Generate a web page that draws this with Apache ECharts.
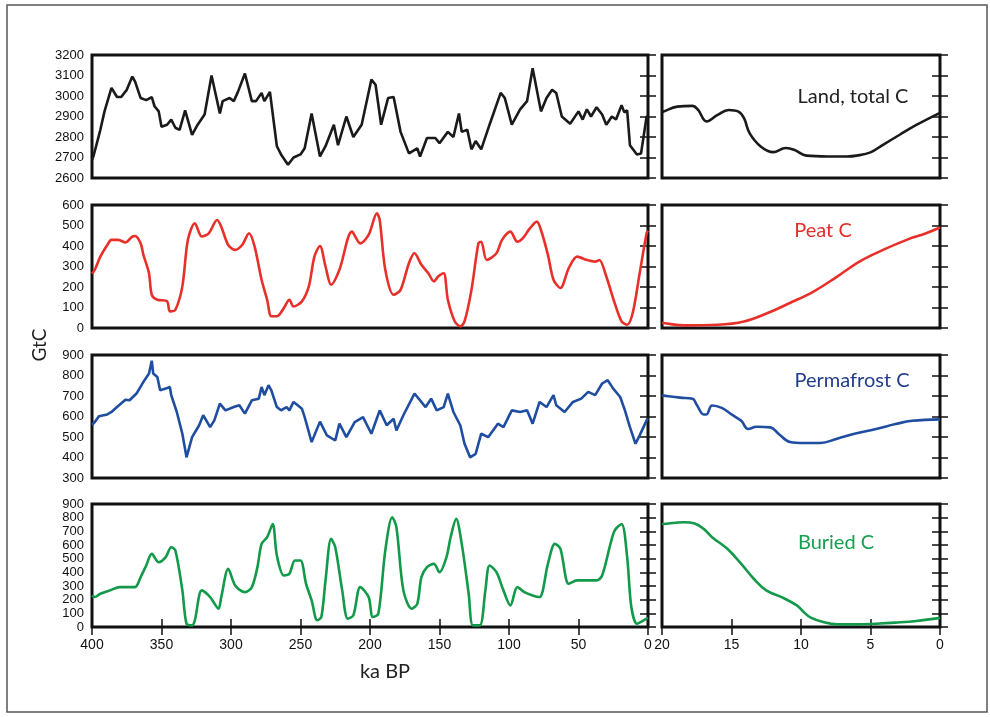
<!DOCTYPE html>
<html>
<head>
<meta charset="utf-8">
<title>Land carbon stocks</title>
<script src="https://cdn.jsdelivr.net/npm/echarts@6/dist/echarts.min.js"></script>
<style>
  html, body { margin: 0; padding: 0; background: #fff; }
  #chart { width: 990px; height: 717px; }
</style>
</head>
<body>
<div id="chart"></div>
<script>
// ---- data (ka BP, GtC) ----
const landAge = [400, 399, 394, 391, 386, 382, 379, 375, 371, 369, 365, 361, 357, 355, 352, 350, 346, 343, 340, 337, 333, 328, 324, 319, 314, 308, 306, 301, 298, 295, 290, 285, 282, 278, 276, 272, 267, 264, 259, 255, 250, 247, 242, 236, 232, 226, 223, 217, 212, 206, 199, 196, 192, 187, 183, 178, 172, 166, 164, 159, 153, 150, 144, 140, 136, 134, 130, 127, 124, 120, 114, 106, 103, 98, 92, 87, 83, 77, 73, 69, 66, 62, 56, 50, 47, 44, 41, 37, 33, 30, 26, 23, 19, 17, 15, 13, 8, 5, 1, 0];
const landC = [2690, 2705, 2835, 2925, 3040, 2995, 2995, 3030, 3095, 3070, 2990, 2980, 2995, 2950, 2925, 2850, 2860, 2885, 2845, 2835, 2930, 2810, 2860, 2910, 3100, 2915, 2975, 2990, 2975, 3020, 3110, 2975, 2975, 3015, 2975, 3020, 2755, 2715, 2665, 2700, 2715, 2745, 2915, 2705, 2755, 2860, 2760, 2900, 2800, 2860, 3080, 3055, 2860, 2990, 2995, 2825, 2720, 2745, 2705, 2795, 2795, 2770, 2825, 2800, 2915, 2825, 2835, 2740, 2780, 2740, 2860, 3015, 2990, 2860, 2935, 2975, 3135, 2925, 2990, 3030, 3015, 2900, 2865, 2925, 2885, 2935, 2900, 2945, 2910, 2860, 2900, 2885, 2955, 2920, 2930, 2760, 2715, 2720, 2900, 2900];

const peatAge = [400, 398, 394, 389, 386, 381, 376, 371, 369, 365, 363, 359, 357, 353, 346, 344, 340, 335, 331, 326, 321, 316, 310, 307, 302, 297, 292, 287, 283, 278, 274, 271, 267, 262, 258, 255, 249, 244, 240, 236, 232, 228, 222, 213, 207, 201, 195, 193, 189, 183, 178, 172, 168, 163, 158, 154, 151, 147, 144, 139, 135, 132, 127, 122, 120, 116, 109, 105, 99, 94, 90, 85, 80, 77, 72, 68, 63, 57, 51, 44, 38, 35, 30, 24, 19, 15, 11, 6, 1, 0];
const peatC = [265, 284, 348, 405, 430, 430, 417, 446, 449, 413, 357, 267, 162, 138, 130, 81, 89, 203, 430, 511, 446, 462, 527, 494, 405, 381, 405, 462, 397, 235, 138, 57, 57, 97, 138, 105, 130, 203, 348, 400, 300, 211, 284, 470, 413, 454, 559, 527, 284, 162, 186, 316, 365, 308, 267, 227, 251, 267, 138, 32, 8, 32, 186, 413, 421, 332, 365, 430, 470, 421, 438, 486, 519, 478, 357, 235, 195, 292, 348, 332, 324, 332, 251, 122, 32, 16, 73, 267, 462, 475];

const permAge = [400, 398, 395, 389, 386, 382, 376, 373, 368, 363, 359, 357, 356, 353, 351, 347, 344, 343, 339, 335, 332, 328, 323, 320, 315, 312, 308, 304, 298, 294, 290, 285, 280, 278, 276, 273, 271, 267, 264, 260, 258, 255, 252, 249, 247, 242, 236, 231, 225, 222, 217, 211, 205, 199, 193, 188, 183, 181, 176, 168, 160, 156, 152, 147, 144, 140, 135, 132, 128, 124, 120, 115, 108, 104, 98, 92, 87, 83, 78, 73, 68, 66, 60, 54, 48, 43, 38, 33, 29, 25, 20, 17, 13, 9, 6, 1, 0];
const permC = [560, 573, 601, 610, 622, 646, 682, 679, 712, 769, 810, 872, 810, 793, 728, 736, 744, 704, 622, 516, 401, 499, 556, 606, 548, 581, 663, 630, 646, 655, 614, 679, 687, 744, 704, 753, 728, 646, 630, 646, 630, 671, 655, 638, 597, 475, 575, 508, 483, 565, 499, 573, 597, 516, 630, 557, 589, 532, 606, 712, 646, 687, 630, 646, 712, 622, 556, 467, 401, 418, 516, 499, 565, 548, 630, 622, 630, 565, 671, 646, 704, 655, 622, 671, 687, 720, 704, 761, 777, 736, 695, 638, 548, 467, 508, 581, 590];

const burAge = [400, 398, 394, 387, 380, 375, 369, 365, 361, 357, 352, 347, 343, 340, 335, 332, 328, 326, 321, 315, 309, 307, 302, 297, 290, 285, 281, 278, 274, 270, 267, 262, 258, 254, 250, 246, 242, 238, 235, 232, 228, 225, 220, 216, 212, 207, 201, 198, 194, 189, 184, 181, 176, 170, 166, 163, 159, 154, 150, 145, 142, 138, 134, 129, 126, 121, 117, 114, 109, 104, 99, 94, 89, 83, 78, 72, 67, 63, 57, 51, 43, 37, 33, 27, 24, 19, 15, 12, 8, 5, 1, 0];
const burC = [230, 219, 243, 268, 292, 292, 292, 365, 450, 535, 474, 511, 584, 560, 268, 24, 12, 49, 268, 219, 134, 219, 426, 304, 255, 292, 438, 608, 657, 754, 523, 377, 389, 487, 487, 316, 195, 49, 73, 341, 645, 584, 268, 61, 85, 292, 219, 73, 97, 560, 803, 730, 268, 134, 170, 365, 438, 462, 401, 511, 657, 791, 608, 243, 12, 12, 268, 450, 401, 268, 158, 292, 255, 231, 219, 462, 608, 572, 316, 341, 341, 341, 377, 608, 706, 754, 511, 146, 24, 37, 61, 66];

// last 20 ka
const landAgeHol = [20, 19.9, 18.9, 17.8, 17.4, 16.8, 16.0, 15.2, 14.5, 14.1, 13.7, 12.9, 12.0, 11.1, 10.5, 9.6, 8.1, 6.7, 6.0, 5.0, 4.1, 2.9, 1.7, 0];
const landCHol = [2920, 2924, 2948, 2952, 2932, 2876, 2908, 2932, 2924, 2892, 2819, 2754, 2726, 2746, 2738, 2709, 2705, 2705, 2709, 2725, 2762, 2811, 2859, 2918];

const peatAgeHol = [20, 19.9, 18.4, 16.0, 14.1, 12.4, 10.8, 9.1, 7.4, 5.8, 4.1, 2.4, 1.0, 0];
const peatCHol = [25, 24, 13, 16, 32, 73, 122, 178, 251, 324, 381, 430, 462, 490];

const permAgeHol = [20, 19.9, 18.7, 17.8, 17.5, 17.0, 16.8, 16.4, 15.7, 15.0, 14.3, 13.8, 13.2, 12.2, 11.6, 10.8, 9.8, 8.6, 7.4, 6.0, 4.6, 3.2, 2.0, 0];
const permCHol = [703, 702, 692, 686, 657, 610, 610, 654, 642, 610, 579, 539, 550, 547, 515, 476, 471, 471, 492, 518, 539, 563, 579, 586];

const burAgeHol = [20, 19.9, 18.4, 17.7, 17.0, 16.4, 15.3, 14.3, 13.4, 12.5, 11.4, 10.3, 9.8, 9.3, 8.4, 7.4, 6.0, 4.6, 3.2, 1.7, 0];
const burCHol = [752, 754, 766, 759, 718, 657, 572, 462, 353, 268, 219, 158, 109, 68, 36, 19, 19, 24, 32, 44, 67];

const panels = [
  { name: "Land, total C", age: landAge, val: landC, ageHol: landAgeHol, valHol: landCHol, min: 2600, max: 3200, color: "#1a1a1a", textColor: "#222", smooth: false, labelX: 853, labelY: 97 },
  { name: "Peat C", age: peatAge, val: peatC, ageHol: peatAgeHol, valHol: peatCHol, min: 0, max: 600, color: "#e8302a", textColor: "#e0302a", smooth: 0.3, labelX: 823, labelY: 231 },
  { name: "Permafrost C", age: permAge, val: permC, ageHol: permAgeHol, valHol: permCHol, min: 300, max: 900, color: "#1f4ea0", textColor: "#223d8c", smooth: false, labelX: 852, labelY: 381 },
  { name: "Buried C", age: burAge, val: burC, ageHol: burAgeHol, valHol: burCHol, min: 0, max: 900, color: "#12994a", textColor: "#15a050", smooth: 0.3, labelX: 836, labelY: 543 }
];

const tops = [55, 205, 355, 504];
const panelH = 123;
const labelFont = "'Liberation Sans', Arial, sans-serif";
const textFont = "Lato, 'Open Sans', sans-serif";

const chart = echarts.init(document.getElementById("chart"));

const grid = [];
const xAxis = [];
const yAxis = [];
const series = [];
const graphic = [];

const tickInside = (len) => ({ show: true, inside: true, length: len, lineStyle: { color: "#111", width: 1.5 } });
const plain = (v) => String(v);

panels.forEach((p, i) => {
  const isBottom = i === panels.length - 1;
  [0, 1].forEach((side) => {
    const g = grid.length;
    grid.push({
      left: side === 0 ? 92 : 662,
      width: side === 0 ? 556 : 278,
      top: tops[i],
      height: panelH,
      show: true,
      borderColor: "#111",
      borderWidth: 3,
      backgroundColor: "transparent"
    });
    const xMax = side === 0 ? 400 : 20;
    const xInt = side === 0 ? 50 : 5;
    // bottom x axis
    xAxis.push({
      gridIndex: g,
      type: "value",
      min: 0,
      max: xMax,
      interval: xInt,
      inverse: true,
      position: "bottom",
      axisLine: { show: false },
      axisTick: isBottom ? tickInside(8) : { show: false },
      splitLine: { show: false },
      axisLabel: isBottom ? {
        show: true, color: "#111", fontSize: 14, fontFamily: labelFont, margin: 11,
        formatter: plain
      } : { show: false }
    });
    // top x axis, ticks only on the bottom row
    xAxis.push({
      gridIndex: g,
      type: "value",
      min: 0,
      max: xMax,
      interval: xInt,
      inverse: true,
      position: "top",
      axisLine: { show: false },
      axisTick: isBottom ? tickInside(8) : { show: false },
      splitLine: { show: false },
      axisLabel: { show: false }
    });
    yAxis.push({
      gridIndex: g,
      type: "value",
      min: p.min,
      max: p.max,
      interval: 100,
      position: "left",
      axisLine: { show: false },
      axisTick: tickInside(8),
      splitLine: { show: false },
      axisLabel: side === 0 ? {
        show: true, color: "#111", fontSize: 13, fontFamily: labelFont,
        margin: 8, formatter: plain
      } : { show: false }
    });
    yAxis.push({
      gridIndex: g,
      type: "value",
      min: p.min,
      max: p.max,
      interval: 100,
      position: "right",
      axisLine: { show: false },
      axisTick: tickInside(8),
      splitLine: { show: false },
      axisLabel: { show: false }
    });
    const ages = side === 0 ? p.age : p.ageHol;
    const vals = side === 0 ? p.val : p.valHol;
    series.push({
      type: "line",
      name: p.name,
      xAxisIndex: g * 2,
      yAxisIndex: g * 2,
      data: ages.map((a, k) => [a, vals[k]]),
      showSymbol: false,
      symbol: "none",
      smooth: side === 1 ? 0.4 : p.smooth,
      clip: true,
      lineStyle: { color: p.color, width: 2.6 },
      z: 3
    });
  });
  graphic.push({
    type: "text",
    x: p.labelX,
    y: p.labelY,
    style: {
      text: p.name,
      fill: p.textColor,
      font: "20px " + textFont,
      textAlign: "center",
      textVerticalAlign: "middle"
    },
    z: 10
  });
});

graphic.push({
  type: "rect",
  shape: { x: 7, y: 5, width: 980, height: 707 },
  style: { fill: "none", stroke: "#555", lineWidth: 1.5 },
  z: 0
});
graphic.push({
  type: "text",
  x: 40,
  y: 345,
  rotation: Math.PI / 2,
  style: {
    text: "GtC",
    fill: "#222",
    font: "19px " + textFont,
    textAlign: "center",
    textVerticalAlign: "middle"
  },
  z: 10
});
graphic.push({
  type: "text",
  x: 385,
  y: 672,
  style: {
    text: "ka BP",
    fill: "#222",
    font: "20px " + textFont,
    textAlign: "center",
    textVerticalAlign: "middle"
  },
  z: 10
});

chart.setOption({
  animation: false,
  backgroundColor: "#fff",
  grid: grid,
  xAxis: xAxis,
  yAxis: yAxis,
  series: series,
  graphic: graphic
});

window.addEventListener("resize", () => chart.resize());
</script>
</body>
</html>
